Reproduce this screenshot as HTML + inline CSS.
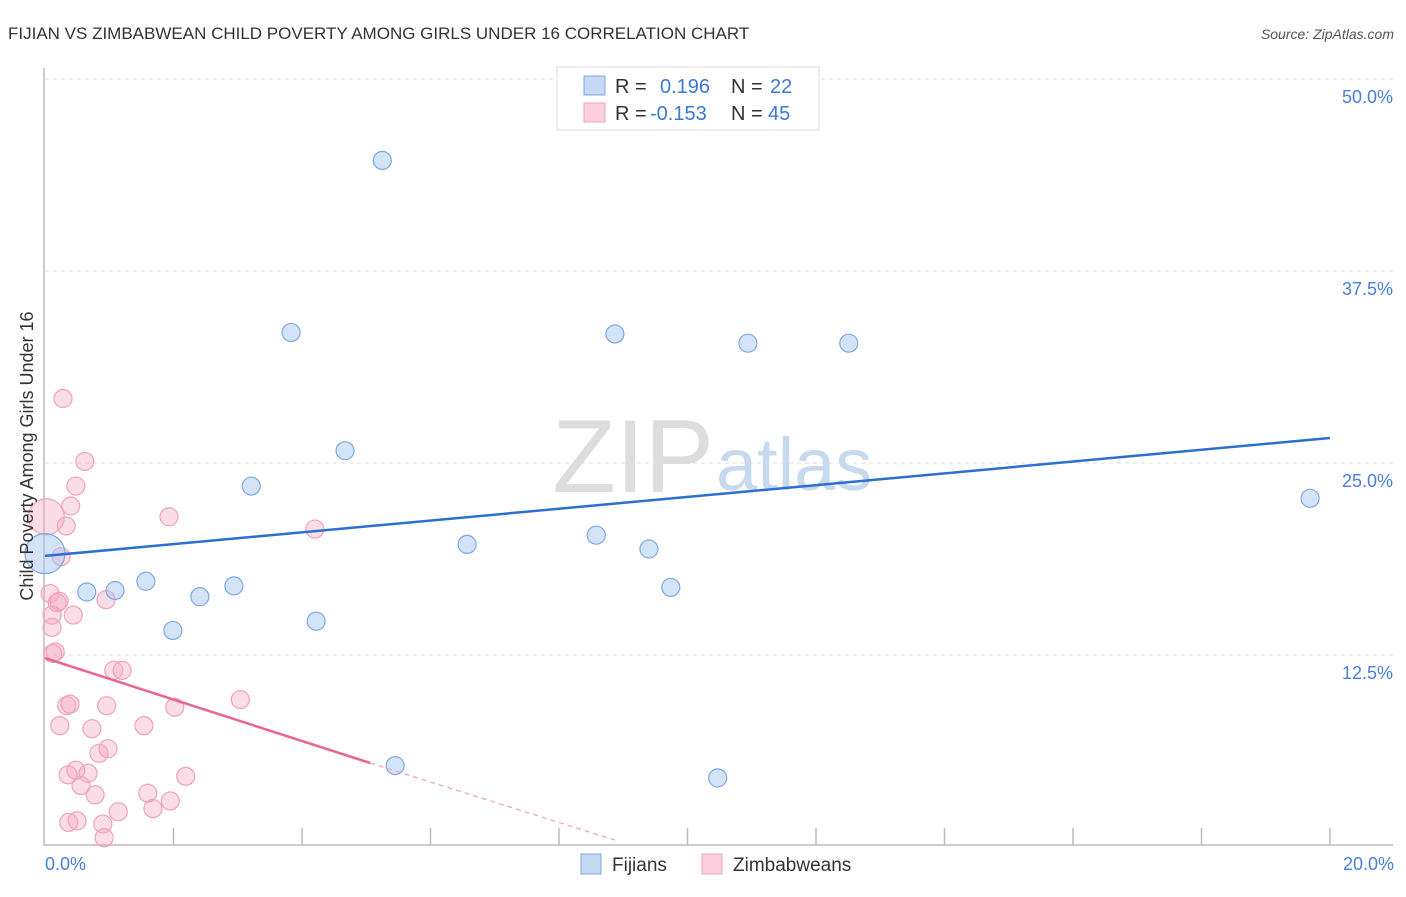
<!DOCTYPE html>
<html><head><meta charset="utf-8"><style>
body{margin:0;background:#fff;font-family:"Liberation Sans",sans-serif;}
svg text{font-family:"Liberation Sans",sans-serif;}
</style></head><body>
<svg width="1406" height="892" viewBox="0 0 1406 892">
<text x="8" y="39" font-size="17" fill="#333">FIJIAN VS ZIMBABWEAN CHILD POVERTY AMONG GIRLS UNDER 16 CORRELATION CHART</text>
<text x="1394" y="39" font-size="14" fill="#555" font-style="italic" text-anchor="end">Source: ZipAtlas.com</text>
<g id="grid"></g>
<text x="714" y="492" font-size="104" fill="#ddd" font-family="Liberation Serif" text-anchor="end">ZIP</text>
<text x="716" y="490" font-size="74" fill="#c7d9ee">atlas</text>
<g id="marks"></g>
<text x="33" y="456" font-size="18" fill="#333" text-anchor="middle" transform="rotate(-90 33 456)">Child Poverty Among Girls Under 16</text>
<text x="45" y="870" font-size="18" fill="#4a7fd6">0.0%</text>
<text x="1394" y="870" font-size="18" fill="#4a7fd6" text-anchor="end">20.0%</text>
<g>
<rect x="557" y="67" width="262" height="63" fill="#fff" stroke="#ddd"/>
<rect x="584" y="76" width="21" height="19" fill="#c5d9f5" stroke="#7fa8e0"/>
<rect x="584" y="103" width="21" height="19" fill="#fbd0dc" stroke="#eea3b8"/>
<text x="615" y="93" font-size="20" fill="#333">R = </text><text x="660" y="93" font-size="20" fill="#3a78d4">0.196</text>
<text x="731" y="93" font-size="20" fill="#333">N = </text><text x="770" y="93" font-size="20" fill="#3a78d4">22</text>
<text x="615" y="120" font-size="20" fill="#333">R = </text><text x="650" y="120" font-size="20" fill="#3a78d4">-0.153</text>
<text x="731" y="120" font-size="20" fill="#333">N = </text><text x="768" y="120" font-size="20" fill="#3a78d4">45</text>
</g>
<g>
<rect x="581" y="854" width="20" height="20" fill="#c5d9f5" stroke="#7fa8e0"/>
<text x="612" y="871" font-size="19" fill="#333">Fijians</text>
<rect x="702" y="854" width="20" height="20" fill="#fbd0dc" stroke="#eea3b8"/>
<text x="733" y="871" font-size="19" fill="#333">Zimbabweans</text>
</g>
</svg>
<script>
const yTicks=[12.5,25,37.5,50];
const yTickLabels=["12.5%","25.0%","37.5%","50.0%"];
const xTicks=[2,4,6,8,10,12,14,16,18,20];
const fijX=[5.25,3.83,8.87,10.94,12.51,4.67,3.21,19.69,6.57,8.58,9.40,1.57,0.65,1.09,2.94,2.41,9.74,1.99,4.22,5.45,10.47,0];
const fijY=[44.7,33.5,33.4,32.8,32.8,25.8,23.5,22.7,19.7,20.3,19.4,17.3,16.6,16.7,17.0,16.3,16.9,14.1,14.7,5.3,4.5,19.1];
const fijR=[9,9,9,9,9,9,9,9,9,9,9,9,9,9,9,9,9,9,9,9,9,20];
const zimX=[0.28,0.62,0.48,0.40,0.33,0.02,1.93,4.20,0.25,0.08,0.19,0.22,0.95,0.44,0.11,0.11,0.16,0.12,1.07,1.20,3.04,0.34,0.39,0.96,2.02,0.73,1.54,0.23,0.84,0.98,0.48,0.36,0.67,2.19,0.56,0.78,1.60,1.95,1.68,1.14,0.37,0.50,0.90,0.92];
const zimY=[29.2,25.1,23.5,22.2,20.9,21.5,21.5,20.7,18.9,16.5,15.9,16.0,16.1,15.1,15.1,14.3,12.7,12.6,11.5,11.5,9.6,9.2,9.3,9.2,9.1,7.7,7.9,7.9,6.1,6.4,5.0,4.7,4.8,4.6,4.0,3.4,3.5,3.0,2.5,2.3,1.6,1.7,1.5,0.6];
const fijTrend=[[0,18.95],[20,26.63]];
const zimTrend=[[0,12.3],[5.06,5.47]];
const zimTrendExt=[[5.06,5.47],[8.87,0.45]];
const sx=v=>45+v/20*1285, sy=v=>847-v/12.5*192;
const NS='http://www.w3.org/2000/svg';
function mk(t,a,p){const e=document.createElementNS(NS,t);for(const k in a)e.setAttribute(k,a[k]);p.appendChild(e);return e;}
const g=document.getElementById('grid'), m=document.getElementById('marks');
yTicks.forEach((t,i)=>{
 const l=mk('line',{x1:45,x2:1393,y1:sy(t),y2:sy(t),stroke:'#ddd','stroke-dasharray':'4,4'},g);
 
 
 const tx=mk('text',{x:1393,y:sy(t)+24,'font-size':18,fill:'#4a7fd6','text-anchor':'end'},g);
 tx.textContent=yTickLabels[i];
 
 
});
xTicks.forEach(t=>{
 const l=mk('line',{x1:sx(t),x2:sx(t),y1:828,y2:845,stroke:'#bbb','stroke-width':1.5},g);
 
 
});
const ax=mk('path',{d:'M44,68V845H1393',fill:'none',stroke:'#bbb','stroke-width':1.5},g);


zimX.forEach((x,i)=>{
 const c=mk('circle',{cx:sx(x),cy:sy(zimY[i]),r:(i==5?18:9),fill:'rgba(246,170,195,0.4)',stroke:'#eea3b8','stroke-width':1.2},m);
 
 
});
fijX.forEach((x,i)=>{
 const c=mk('circle',{cx:sx(x),cy:sy(fijY[i]),r:fijR[i],fill:'rgba(160,195,240,0.45)',stroke:'#7fa8e0','stroke-width':1.2},m);
 
 
});
let l=mk('line',{x1:sx(fijTrend[0][0]),y1:sy(fijTrend[0][1]),x2:sx(fijTrend[1][0]),y2:sy(fijTrend[1][1]),stroke:'#2c6fd1','stroke-width':2.5},m);


l=mk('line',{x1:sx(zimTrend[0][0]),y1:sy(zimTrend[0][1]),x2:sx(zimTrend[1][0]),y2:sy(zimTrend[1][1]),stroke:'#e8658f','stroke-width':2.5},m);


l=mk('line',{x1:sx(zimTrendExt[0][0]),y1:sy(zimTrendExt[0][1]),x2:sx(zimTrendExt[1][0]),y2:sy(zimTrendExt[1][1]),stroke:'#f0a0b8','stroke-width':1.2,'stroke-dasharray':'5,4'},m);


</script>
</body></html>
